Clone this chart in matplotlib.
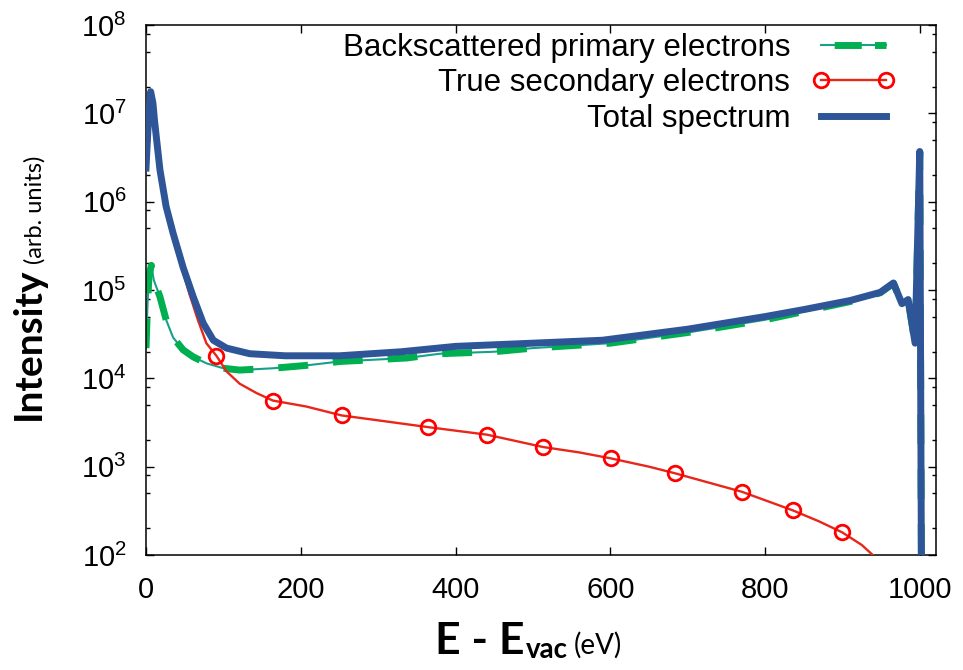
import matplotlib
matplotlib.use("Agg")
import matplotlib.pyplot as plt
from matplotlib.lines import Line2D
from matplotlib.ticker import LogLocator, NullFormatter, FixedLocator

plt.rcParams['font.family'] = ['Liberation Sans', 'DejaVu Sans']
plt.rcParams['mathtext.fontset'] = 'custom'
plt.rcParams['mathtext.rm'] = 'Liberation Sans'

# total spectrum
E_total = [0, 3, 6, 9, 11, 18, 26, 35, 48, 61, 74, 87, 104, 134, 180, 250, 330,
           400, 500, 590, 700, 800, 850, 910, 949, 966, 977, 985, 994, 1000, 1003]
I_total = [2.4e6, 8e6, 1.76e7, 1.3e7, 8.3e6, 2.3e6, 8.8e5, 4.4e5, 1.8e5, 8.4e4, 4.2e4,
           2.7e4, 2.2e4, 1.9e4, 1.8e4, 1.8e4, 2.0e4, 2.3e4, 2.5e4, 2.7e4, 3.6e4, 5.0e4,
           6.0e4, 7.6e4, 9.4e4, 1.2e5, 7.0e4, 7.8e4, 2.5e4, 3.7e6, 1.0]

# backscattered primaries
E_bs = [0, 2, 4, 7, 10, 18, 26, 35, 48, 61, 78, 100, 121, 164, 207, 250, 337, 380,
        450, 500, 600, 700, 800, 850, 910, 949, 966, 977, 985, 994, 1000, 1003]
I_bs = [2.2e4, 7e4, 1.5e5, 1.9e5, 1.3e5, 8.4e4, 4.6e4, 2.9e4, 2.1e4, 1.75e4, 1.48e4,
        1.3e4, 1.24e4, 1.3e4, 1.4e4, 1.55e4, 1.7e4, 1.9e4, 2.0e4, 2.2e4, 2.5e4, 3.3e4,
        4.6e4, 5.7e4, 7.4e4, 9.3e4, 1.19e5, 6.9e4, 7.7e4, 2.45e4, 3.6e6, 1.0]

# true secondaries
E_se = [0, 6, 11, 18, 26, 35, 48, 56, 67, 78, 91, 104, 121, 143, 164, 207, 253, 294,
        365, 441, 513, 560, 601, 650, 684, 730, 770, 836, 870, 900, 925, 945]
I_se = [2.3e6, 1.74e7, 8.2e6, 2.2e6, 8.3e5, 4.1e5, 1.6e5, 9.1e4, 4.6e4, 2.5e4, 1.8e4,
        1.2e4, 8.7e3, 6.8e3, 5.6e3, 4.8e3, 3.8e3, 3.4e3, 2.8e3, 2.3e3, 1.67e3, 1.45e3,
        1.24e3, 1.0e3, 840, 650, 520, 320, 240, 180, 130, 90]
E_se_marks = [91, 164, 253, 365, 441, 513, 601, 684, 770, 836, 900]

labels = ['Backscattered primary electrons', 'True secondary electrons', 'Total spectrum']

c_blue = '#2e5597'
c_green = '#00b050'
c_teal = '#17a08a'
c_red = '#e8261a'

fig = plt.figure(figsize=(9.63, 6.70), dpi=100)
ax = fig.add_axes([146 / 963, 1 - 555 / 670, (936 - 146) / 963, 530 / 670])

ax.plot(E_bs, I_bs, color=c_teal, lw=1.5, zorder=2)
ax.plot(E_bs, I_bs, color=c_green, lw=5, dashes=(4.3, 3.6), zorder=2)
marks = [E_se.index(e) for e in E_se_marks]
ax.plot(E_se, I_se, color=c_red, lw=1.7, marker='o', markevery=marks, ms=10.5,
        mfc='none', mec='#ff0000', mew=2, zorder=3)
ax.plot(E_total, I_total, color=c_blue, lw=5, zorder=4, solid_joinstyle='round')

ax.set_yscale('log')
ax.set_xlim(0, 1021)
ax.set_ylim(1e2, 1e8)
ax.xaxis.set_major_locator(FixedLocator([0, 200, 400, 600, 800, 1000]))
ax.yaxis.set_major_locator(LogLocator(base=10, numticks=20))
ax.yaxis.set_minor_locator(LogLocator(base=10, subs=[2, 5, 8], numticks=20))
ax.yaxis.set_minor_formatter(NullFormatter())
ax.tick_params(which='both', direction='in', top=True, right=True, width=1.0)
ax.tick_params(which='major', length=6, labelsize=21)
ax.tick_params(axis='y', which='major', pad=14)
ax.tick_params(axis='x', which='major', pad=15)
ax.tick_params(which='minor', length=3)
for s in ax.spines.values():
    s.set_linewidth(1.1)

h_bs = (Line2D([], [], color=c_teal, lw=1.5),
        Line2D([], [], color=c_green, lw=5, linestyle=(3.9, (3.9, 1.9))))
h_se = Line2D([], [], color=c_red, lw=1.7, marker='o', ms=10.5, mfc='none',
              mec='#ff0000', mew=2)
h_tot = Line2D([], [], color=c_blue, lw=5)
ax.legend([h_bs, h_se, h_tot], labels, loc='upper right', bbox_to_anchor=(0.948, 0.985),
          frameon=False, markerfirst=False, fontsize=22.5, handlelength=2.65,
          handletextpad=0.7, labelspacing=0.17, borderpad=0, borderaxespad=0,
          numpoints=2)

# x label: E - E_vac (eV)
xt = fig.text(435 / 963, 1 - 654 / 670, 'E - E', fontsize=32, fontweight='bold',
              family='Lato', ha='left', va='baseline')
vt = ax.annotate('vac', xy=(1, 0), xycoords=xt, xytext=(1, 2), textcoords='offset points',
                 fontsize=20, fontweight='bold', family='Lato', ha='left', va='baseline')
ax.annotate('(eV)', xy=(1, 0), xycoords=vt, xytext=(4, 7), textcoords='offset points',
            fontsize=20, family='Lato', ha='left', va='baseline')

# y label: Intensity (arb. units)
yt = fig.text(28 / 963, 1 - 268 / 670, 'Intensity', fontsize=28, fontweight='bold',
              family='Lato', rotation=90, ha='center', va='top')
ax.annotate('(arb. units)', xy=(1, 1), xycoords=yt, xytext=(0, 3),
            textcoords='offset points', fontsize=17, family='Lato',
            rotation=90, ha='right', va='bottom')

fig.savefig('out.png', dpi=100)
